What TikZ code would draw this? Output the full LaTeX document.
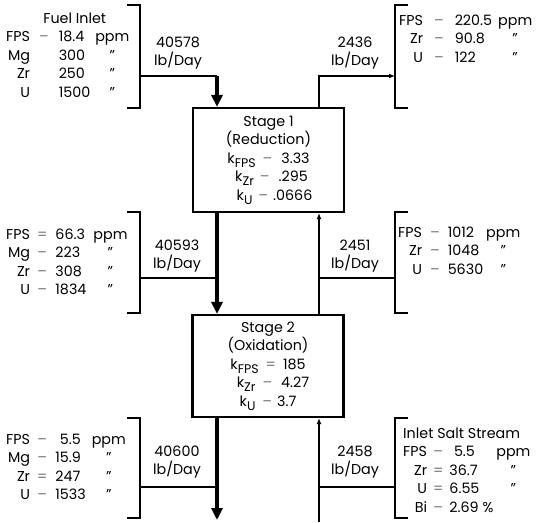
\documentclass[tikz,border=0pt]{standalone}
\usepackage{fontspec}
\setmainfont{Poppins}
\usetikzlibrary{arrows.meta,positioning,calc}
\newcommand\ks[1]{k\raisebox{-0.5ex}{\fontsize{12.5}{12.5}\selectfont #1}}
\newcommand\dsh{\textcolor{black!55}{--}}
\newcommand\deq{\textcolor{black!55}{=}}
\newcommand\dt{''}
\tikzset{
  stagebox/.style={draw,line width=2.2pt,minimum width=151pt,minimum height=104pt,align=center,inner sep=0pt},
  bracket/.style={line width=2pt},
  feed/.style={line width=2pt},
  mainflow/.style={line width=3.8pt,-{Triangle[length=12pt,width=11pt]}},
  sideflow/.style={line width=2pt,-{Latex[length=6pt,width=5pt]}},
  rate/.style={align=center},
  comp/.style={anchor=north west,inner sep=0pt}
}
\begin{document}
\begin{tikzpicture}[x=1pt,y=-1pt,font=\fontsize{14.3}{18.5}\selectfont]
\useasboundingbox (0,0) rectangle (543,522);
\node[stagebox] (stage1) at (268.5,160) {Stage 1\\(Reduction)\\\ks{FPS}\hspace{7pt}\dsh\hspace{9pt}3.33\\\hspace{6pt}\ks{Zr}\hspace{6pt}\dsh\hspace{9pt}.295\\\hspace{12pt}\ks{U}\hspace{6pt}\dsh\hspace{5pt}.0666};
\node[stagebox,minimum height=102pt] (stage2) at (268,366) {Stage 2\\(Oxidation)\\\ks{FPS}\hspace{7pt}\deq\hspace{7pt}185\\\hspace{10pt}\ks{Zr}\hspace{7pt}\dsh\hspace{9pt}4.27\\\ks{U}\hspace{7pt}\dsh\hspace{5pt}3.7};
\foreach \i/\t/\b/\m in {1/5/108/76,2/212/313/278,3/418/518/487}{
  \draw[bracket] (127,\t) -| (140,\b) -- (127,\b);
  \coordinate (lb\i) at (140,\m);
  \draw[bracket] (408,\t) -| (395,\b) -- (408,\b);
  \coordinate (rb\i) at (395,\m);
}
\coordinate (mainx) at (217,0);
\coordinate (retx) at (319,0);
\coordinate (out) at (217,520);
\coordinate (saltin) at (319,522);
\draw[feed] (lb1) -- (lb1 -| mainx);
\draw[mainflow] (lb1 -| mainx) -- (mainx |- stage1.north);
\draw[mainflow] (mainx |- stage1.south) -- (mainx |- stage2.north);
\draw[feed] (lb2) -- (lb2 -| mainx);
\draw[mainflow] (mainx |- stage2.south) -- (out);
\draw[feed] (lb3) -- (lb3 -| mainx);
\draw[sideflow] (saltin) -- (retx |- stage2.south);
\draw[feed] (rb3) -- (rb3 -| retx);
\draw[sideflow] (retx |- stage2.north) -- (retx |- stage1.south);
\draw[feed] (rb2) -- (rb2 -| retx);
\draw[sideflow] (retx |- stage1.north) |- (rb1);
\node[rate] (r1) at (178,53) {40578\\lb/Day};
\node[rate] (r2) at (355,53) {2436\\lb/Day};
\node[rate] (r3) at (177,256) {40593\\lb/Day};
\node[rate] (r4) at (355,256) {2451\\lb/Day};
\node[rate] (r5) at (177,462) {40600\\lb/Day};
\node[rate] (r6) at (355,462) {2458\\lb/Day};
\node[comp] (fuelin) at (6,10) {\begin{tabular}{@{}r@{\hspace{9pt}}c@{\hspace{10pt}}l@{\hspace{5pt}}c@{}}
\multicolumn{4}{c}{\hspace{14pt}Fuel Inlet}\\
FPS & \dsh & 18.4 & ppm\\
Mg & & 300 & \dt\\
Zr & & 250 & \dt\\
U & & 1500 & \dt
\end{tabular}};
\node[comp] (salt1) at (6,226) {\begin{tabular}{@{}r@{\hspace{7pt}}c@{\hspace{8pt}}l@{\hspace{7pt}}c@{}}
FPS & \deq & 66.3 & ppm\\
Mg & \dsh & 223 & \dt\\
Zr & \dsh & 308 & \dt\\
U & \dsh & 1834 & \dt
\end{tabular}};
\node[comp] (salt2) at (6,431) {\begin{tabular}{@{}r@{\hspace{7pt}}c@{\hspace{8pt}}l@{\hspace{6pt}}c@{}}
FPS & \dsh & \phantom{1}5.5 & ppm\\
Mg & \dsh & 15.9 & \dt\\
Zr & \deq & 247 & \dt\\
U & \dsh & 1533 & \dt
\end{tabular}};
\node[comp] (bi1) at (399,12) {\begin{tabular}{@{}r@{\hspace{11pt}}c@{\hspace{11pt}}l@{\hspace{6pt}}c@{}}
FPS & \dsh & 220.5 & ppm\\
Zr & \dsh & 90.8 & \dt\\
U & \dsh & 122 & \dt
\end{tabular}};
\node[comp] (bi2) at (398,224) {\begin{tabular}{@{}r@{\hspace{8pt}}c@{\hspace{8pt}}l@{\hspace{3pt}}c@{}}
FPS & \dsh & 1012 & ppm\\
Zr & \dsh & 1048 & \dt\\
U & \dsh & 5630 & \dt
\end{tabular}};
\node[comp] (bi3) at (403,425) {\begin{tabular}{@{}r@{\hspace{6pt}}c@{\hspace{6pt}}l@{\hspace{3pt}}c@{}}
\multicolumn{4}{@{}l}{Inlet Salt Stream}\\
FPS & \dsh & \phantom{1}5.5 & ppm\\
Zr & \deq & 36.7 & \dt\\
U & \deq & 6.55 & \dt\\
Bi & \dsh & 2.69 \% &
\end{tabular}};
\end{tikzpicture}
\end{document}
